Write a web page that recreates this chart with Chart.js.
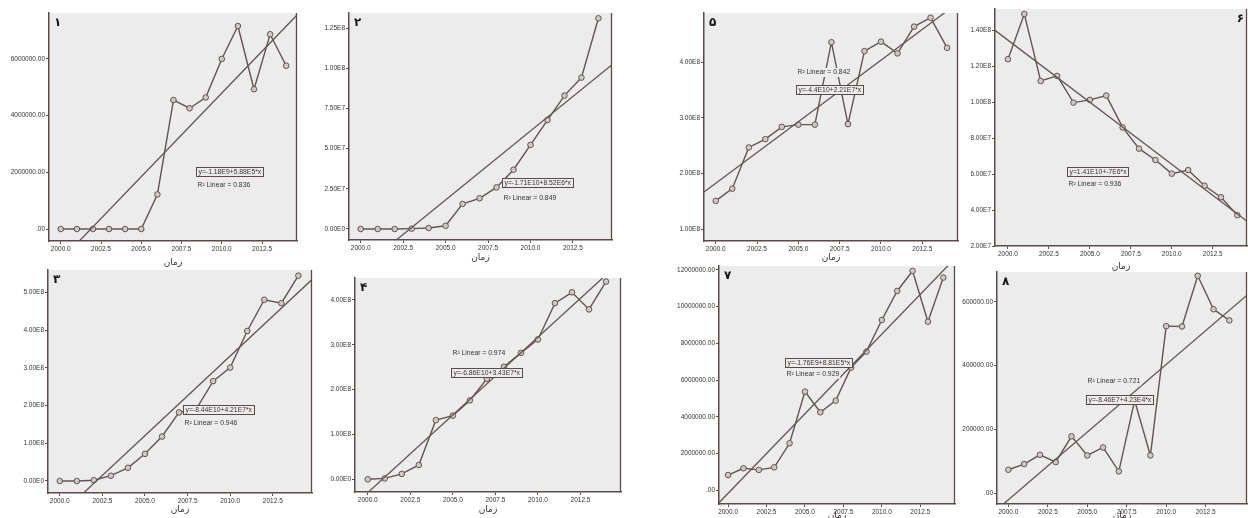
<!DOCTYPE html>
<html><head><meta charset="utf-8">
<script src="https://cdn.jsdelivr.net/npm/chart.js@4.4.1/dist/chart.umd.min.js"></script>
<style>
html,body{margin:0;padding:0;background:#fff;overflow:hidden;width:1248px;height:518px;}
#wrap{position:relative;width:1248px;height:518px;overflow:hidden;background:#fff;}
canvas{position:absolute;}
</style></head><body><div id="wrap"></div>
<script>
// ---------- data ----------
const years = [2000,2001,2002,2003,2004,2005,2006,2007,2008,2009,2010,2011,2012,2013,2014];
const xTickValues = [2000, 2002.5, 2005, 2007.5, 2010, 2012.5];
const xTickLabels = ['2000.0','2002.5','2005.0','2007.5','2010.0','2012.5'];
const xTitle = 'زمان';

const values1 = [0,0,0,0,0,0,1220000,4550000,4260000,4640000,6000000,7160000,4930000,6870000,5760000];
const values2 = [0,0,0,200000,600000,2000000,15600000,19100000,25900000,36900000,52300000,67800000,83000000,94200000,131100000];
const values3 = [0,0,2000000,14000000,35000000,72000000,118000000,182000000,190000000,265000000,301000000,398000000,481000000,472000000,545000000];
const values4 = [0,2000000,12000000,32000000,132000000,142000000,176000000,224000000,251000000,282000000,312000000,393000000,417000000,379000000,441000000];
const values5 = [151000000,173000000,247000000,262000000,284000000,288000000,288000000,436000000,289000000,420000000,437000000,416000000,464000000,480000000,426000000];
const values6 = [123800000,148900000,111700000,114500000,99700000,101200000,103600000,85900000,74100000,67800000,60200000,62200000,53500000,47100000,37100000];
const values7 = [830000,1200000,1110000,1250000,2560000,5370000,4250000,4880000,6680000,7550000,9270000,10850000,11940000,9180000,11580000];
const values8 = [73000,91000,120000,97000,178000,118000,143000,68000,290000,118000,524000,523000,682000,577000,542000];

const yTicks1 = [0,2000000,4000000,6000000];
const yLabels1 = ['.00','2000000.00','4000000.00','6000000.00'];
const yTicks2 = [0,25000000,50000000,75000000,100000000,125000000];
const yLabels2 = ['0.00E0','2.50E7','5.00E7','7.50E7','1.00E8','1.25E8'];
const yTicks3 = [0,100000000,200000000,300000000,400000000,500000000];
const yLabels3 = ['0.00E0','1.00E8','2.00E8','3.00E8','4.00E8','5.00E8'];
const yTicks4 = [0,100000000,200000000,300000000,400000000];
const yLabels4 = ['0.00E0','1.00E8','2.00E8','3.00E8','4.00E8'];
const yTicks5 = [100000000,200000000,300000000,400000000];
const yLabels5 = ['1.00E8','2.00E8','3.00E8','4.00E8'];
const yTicks6 = [20000000,40000000,60000000,80000000,100000000,120000000,140000000];
const yLabels6 = ['2.00E7','4.00E7','6.00E7','8.00E7','1.00E8','1.20E8','1.40E8'];
const yTicks7 = [0,2000000,4000000,6000000,8000000,10000000,12000000];
const yLabels7 = ['.00','2000000.00','4000000.00','6000000.00','8000000.00','10000000.00','12000000.00'];
const yTicks8 = [0,200000,400000,600000];
const yLabels8 = ['.00','200000.00','400000.00','600000.00'];

const panelNumbers = ['۱','۲','۳','۴','۵','۶','۷','۸'];
const equations = ['y=-1.18E9+5.88E5*x','y=-1.71E10+8.52E6*x','y=-8.44E10+4.21E7*x','y=-6.86E10+3.43E7*x',
                   'y=-4.4E10+2.21E7*x','y=1.41E10+-7E6*x','y=-1.76E9+8.81E5*x','y=-8.46E7+4.23E4*x'];
const r2Labels = ['R² Linear = 0.836','R² Linear = 0.849','R² Linear = 0.946','R² Linear = 0.974',
                  'R² Linear = 0.842','R² Linear = 0.936','R² Linear = 0.929','R² Linear = 0.721'];

// ---------- style ----------
const AXIS = '#5a4b48';
const LINE = '#625452';
const PT_FILL = '#cfc8c6';
const TEXT = '#3a3232';
const PLOT_BG = '#ececec';
const TICK_FONT = {size: 6.5, family: '"Liberation Sans", Arial, sans-serif'};
const W = 58, PT = 8;

// ---------- layout (plot boxes in page px, axis ranges, annotation anchors) ----------
const panels = [
  {vals: values1, yt: yTicks1, yl: yLabels1, num: 0, L: 49, R: 302, T: 13, B: 241, xmin: 1999.27, xmax: 2014.67, ymin: -423000, ymax: 7620000, tg: 22,
   ax: 2008.4, ay: 2190000, r2: 'below', gap: 9, side: 'left'},
  {vals: values2, yt: yTicks2, yl: yLabels2, num: 1, L: 349, R: 617, T: 13, B: 240, xmin: 1999.31, xmax: 2014.80, ymin: -6850000, ymax: 134400000, tg: 18,
   ax: 2008.32, ay: 31500000, r2: 'below', gap: 11, side: 'left'},
  {vals: values5, yt: yTicks5, yl: yLabels5, num: 4, L: 704, R: 963, T: 13, B: 241, xmin: 1999.29, xmax: 2014.66, ymin: 79000000, ymax: 488500000, tg: 17,
   ax: 2004.88, ay: 359000000, r2: 'above', gap: 13, side: 'left'},
  {vals: values6, yt: yTicks6, yl: yLabels6, num: 5, L: 995, R: 1252, T: 9, B: 246, xmin: 1999.21, xmax: 2014.59, ymin: 20000000, ymax: 151700000, tg: 21,
   ax: 2003.59, ay: 64100000, r2: 'below', gap: 8, side: 'right'},
  {vals: values3, yt: yTicks3, yl: yLabels3, num: 2, L: 48, R: 317, T: 270, B: 493, xmin: 1999.31, xmax: 2014.80, ymin: -31900000, ymax: 560000000, tg: 17,
   ax: 2007.21, ay: 202000000, r2: 'below', gap: 9, side: 'left'},
  {vals: values4, yt: yTicks4, yl: yLabels4, num: 3, L: 355, R: 626, T: 278, B: 492, xmin: 1999.25, xmax: 2014.88, ymin: -28300000, ymax: 449000000, tg: 18,
   ax: 2004.88, ay: 247600000, r2: 'above', gap: 15, side: 'left'},
  {vals: values7, yt: yTicks7, yl: yLabels7, num: 6, L: 719, R: 960, T: 266, B: 504, xmin: 1999.41, xmax: 2014.76, ymin: -746000, ymax: 12210000, tg: 12,
   ax: 2003.72, ay: 7220000, r2: 'below', gap: 7, side: 'left'},
  {vals: values8, yt: yTicks8, yl: yLabels8, num: 7, L: 997, R: 1252, T: 272, B: 504, xmin: 1999.28, xmax: 2015.12, ymin: -34500, ymax: 694000, tg: 12,
   ax: 2004.9, ay: 307700, r2: 'above', gap: 14, side: 'left'}
];

function linearFit(xs, ys) {
  const n = xs.length;
  const mx = xs.reduce((a, b) => a + b, 0) / n;
  const my = ys.reduce((a, b) => a + b, 0) / n;
  let sxx = 0, sxy = 0;
  for (let i = 0; i < n; i++) { sxx += (xs[i] - mx) ** 2; sxy += (xs[i] - mx) * (ys[i] - my); }
  const slope = sxy / sxx;
  return {slope, intercept: my - slope * mx};
}

const decor = {
  id: 'decor',
  beforeDraw(chart, args, o) {
    const {ctx, chartArea: a} = chart;
    ctx.save();
    ctx.fillStyle = PLOT_BG;
    ctx.fillRect(a.left, a.top, a.right - a.left, a.bottom - a.top);
    ctx.restore();
  },
  afterDatasetsDraw(chart, args, o) {
    const {ctx, chartArea: a} = chart;
    const xs = chart.scales.x, ys = chart.scales.y;
    ctx.save();
    // equation box + R² text
    ctx.font = '6.8px "Liberation Sans", Arial, sans-serif';
    ctx.textBaseline = 'middle'; ctx.textAlign = 'left';
    const bx = Math.round(xs.getPixelForValue(o.ax)) + 0.5;
    const by = Math.round(ys.getPixelForValue(o.ay)) + 0.5;
    const w = Math.round(ctx.measureText(o.eq).width + 4), h = 9;
    ctx.fillStyle = PLOT_BG; ctx.fillRect(bx, by, w, h);
    ctx.strokeStyle = AXIS; ctx.lineWidth = 1; ctx.strokeRect(bx, by, w, h);
    ctx.fillStyle = TEXT; ctx.fillText(o.eq, bx + 2, by + h / 2 + 0.5);
    const ry = o.r2 === 'below' ? by + h + o.gap : by - o.gap;
    const rw = ctx.measureText(o.r2text).width + 2;
    ctx.fillStyle = PLOT_BG; ctx.fillRect(bx, ry - 4.5, rw, 9);
    ctx.fillStyle = TEXT; ctx.fillText(o.r2text, bx + 1, ry);
    // panel number
    ctx.font = 'bold 12px "DejaVu Sans", sans-serif';
    ctx.fillStyle = '#1a1414';
    ctx.textAlign = o.side === 'right' ? 'right' : 'left';
    ctx.fillText(o.num, o.side === 'right' ? a.right - 3 : a.left + 5, a.top + 10);
    // right frame
    ctx.strokeStyle = AXIS; ctx.lineWidth = 1.3;
    ctx.beginPath(); ctx.moveTo(a.right - 0.5, a.top); ctx.lineTo(a.right - 0.5, a.bottom); ctx.stroke();
    ctx.restore();
  }
};

const wrap = document.getElementById('wrap');
panels.forEach(p => {
  const H = Math.round(p.tg + 5.4);
  const cv = document.createElement('canvas');
  const cw = W + (p.R - p.L), ch = PT + (p.B - p.T) + H;
  cv.width = cw; cv.height = ch;
  cv.style.left = (p.L - W) + 'px'; cv.style.top = (p.T - PT) + 'px';
  cv.style.width = cw + 'px'; cv.style.height = ch + 'px';
  wrap.appendChild(cv);

  const pts = years.map((x, i) => ({x, y: p.vals[i]}));
  const fit = linearFit(years, p.vals);
  const fitPts = [p.xmin, p.xmax].map(x => ({x, y: fit.intercept + fit.slope * x}));
  const yt = p.yt, yl = p.yl;

  new Chart(cv, {
    type: 'scatter',
    data: {datasets: [
      {data: fitPts, showLine: true, borderColor: LINE, borderWidth: 1.3, pointRadius: 0, fill: false},
      {data: pts, showLine: true, borderColor: LINE, borderWidth: 1.4, pointRadius: 2.8,
       pointBackgroundColor: PT_FILL, pointBorderColor: LINE, pointBorderWidth: 1, fill: false}
    ]},
    plugins: [decor],
    options: {
      responsive: false, animation: false, devicePixelRatio: 1, events: [],
      layout: {padding: {top: PT, left: 0, right: 0, bottom: 0}},
      plugins: {
        legend: {display: false}, tooltip: {enabled: false},
        decor: {ax: p.ax, ay: p.ay, eq: equations[p.num], r2text: r2Labels[p.num], r2: p.r2, gap: p.gap,
                num: panelNumbers[p.num], side: p.side}
      },
      scales: {
        x: {
          type: 'linear', position: 'bottom', min: p.xmin, max: p.xmax, bounds: 'data',
          afterBuildTicks: s => { s.ticks = xTickValues.map(v => ({value: v})); },
          afterFit: s => { s.height = H; s.paddingLeft = 0; s.paddingRight = 0; s.paddingTop = 0; s.paddingBottom = 0; },
          ticks: {autoSkip: false, maxRotation: 0, minRotation: 0, padding: 1, font: TICK_FONT, color: TEXT,
                  callback: v => xTickLabels[xTickValues.indexOf(v)]},
          grid: {display: true, drawOnChartArea: false, drawTicks: true, tickLength: 3, color: AXIS, lineWidth: 1},
          border: {display: true, color: AXIS, width: 1.5},
          title: {display: true, text: xTitle, color: TEXT, font: {size: 9, family: '"DejaVu Sans", sans-serif'},
                  padding: {top: 0, bottom: 0}}
        },
        y: {
          type: 'linear', position: 'left', min: p.ymin, max: p.ymax, bounds: 'data',
          afterBuildTicks: s => { s.ticks = yt.map(v => ({value: v})); },
          afterFit: s => { s.width = W; s.paddingLeft = 0; s.paddingRight = 0; s.paddingTop = 0; s.paddingBottom = 0; },
          ticks: {autoSkip: false, padding: 1, font: TICK_FONT, color: TEXT,
                  callback: v => yl[yt.indexOf(v)]},
          grid: {display: true, drawOnChartArea: false, drawTicks: true, tickLength: 3, color: AXIS, lineWidth: 1},
          border: {display: true, color: AXIS, width: 1.5}
        }
      }
    }
  });
});
</script>
</body></html>
